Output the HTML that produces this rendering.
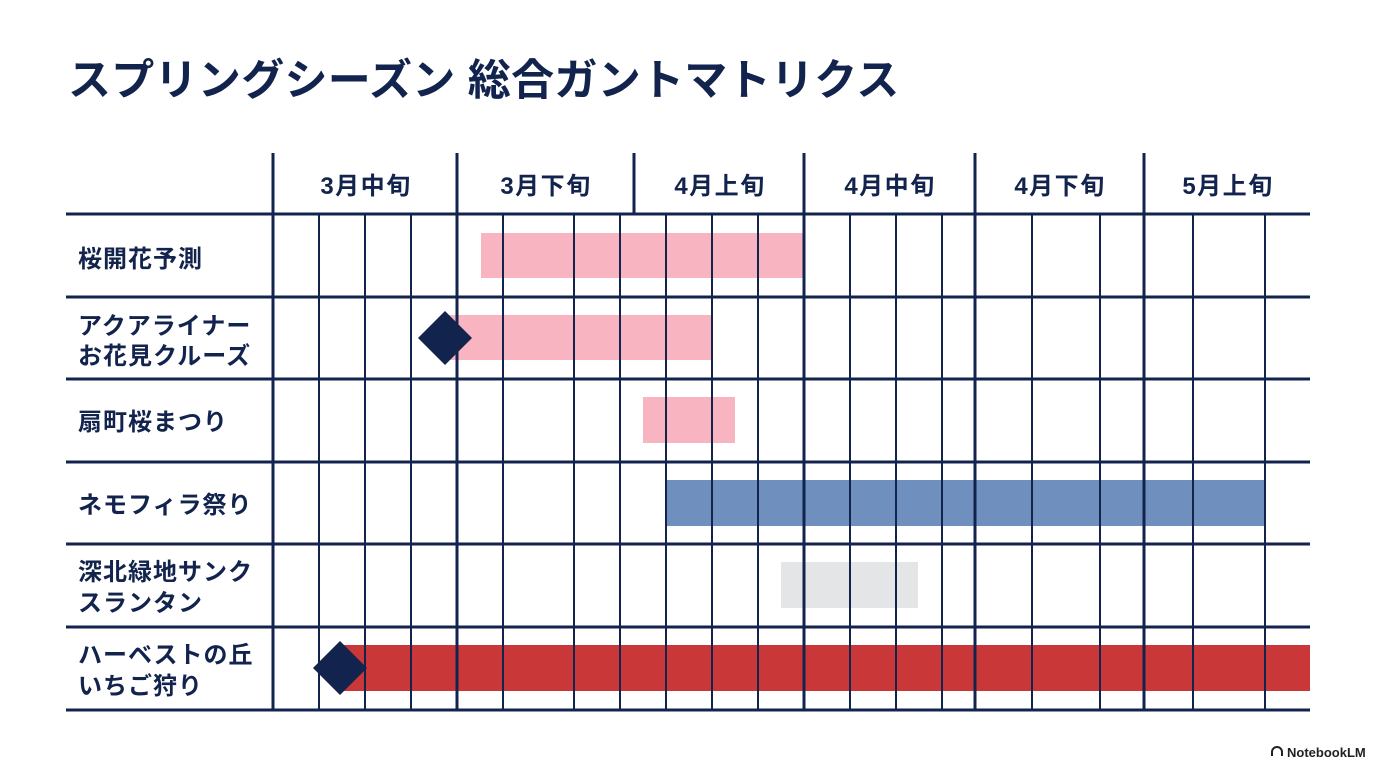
<!DOCTYPE html><html><head><meta charset="utf-8"><style>
body{margin:0;width:1376px;height:768px;background:#fff;overflow:hidden;font-family:"Liberation Sans","Noto Sans CJK JP",sans-serif;color:#12234d}
</style></head><body>
<svg width="1376" height="768" xmlns="http://www.w3.org/2000/svg" style="position:absolute;left:0;top:0">
<text x="68" y="95" font-size="43" font-weight="bold" fill="#12234d" letter-spacing="0.3" font-family="Liberation Sans,Noto Sans CJK JP,sans-serif">スプリングシーズン 総合ガントマトリクス</text>
<g fill="#f8b4c0"><rect x="481" y="233" width="322" height="45"/><rect x="445" y="315" width="267" height="45"/><rect x="643" y="397" width="92" height="46"/></g>
<rect x="666" y="480" width="599" height="46" fill="#6f8fbf"/>
<rect x="781" y="562" width="137" height="46" fill="#e3e5e6"/>
<rect x="340" y="645" width="970" height="46" fill="#c93738"/>
<g stroke="#12234d" stroke-width="2">
<line x1="319" y1="213" x2="319" y2="710"/><line x1="365" y1="213" x2="365" y2="710"/><line x1="411" y1="213" x2="411" y2="710"/>
<line x1="503" y1="213" x2="503" y2="710"/><line x1="574" y1="213" x2="574" y2="710"/><line x1="620" y1="213" x2="620" y2="710"/><line x1="666" y1="213" x2="666" y2="710"/><line x1="712" y1="213" x2="712" y2="710"/><line x1="758" y1="213" x2="758" y2="710"/>
<line x1="850" y1="213" x2="850" y2="710"/><line x1="896" y1="213" x2="896" y2="710"/><line x1="942" y1="213" x2="942" y2="710"/>
<line x1="1032" y1="213" x2="1032" y2="710"/><line x1="1100" y1="213" x2="1100" y2="710"/><line x1="1193" y1="213" x2="1193" y2="710"/><line x1="1265" y1="213" x2="1265" y2="710"/>
</g>
<g stroke="#12234d" stroke-width="3">
<line x1="273" y1="153" x2="273" y2="710"/><line x1="457" y1="153" x2="457" y2="710"/><line x1="634" y1="153" x2="634" y2="213"/><line x1="804" y1="153" x2="804" y2="710"/><line x1="975" y1="153" x2="975" y2="710"/><line x1="1144" y1="153" x2="1144" y2="710"/>
<line x1="66" y1="214" x2="1310" y2="214"/><line x1="66" y1="297" x2="1310" y2="297"/><line x1="66" y1="379" x2="1310" y2="379"/><line x1="66" y1="462" x2="1310" y2="462"/><line x1="66" y1="544" x2="1310" y2="544"/><line x1="66" y1="627" x2="1310" y2="627"/><line x1="66" y1="710" x2="1310" y2="710"/>
</g>
<g fill="#12234d"><polygon points="445,311 472,338 445,365 418,338"/><polygon points="340,641 367,668 340,695 313,668"/></g>
<g font-size="24" font-weight="bold" fill="#12234d" text-anchor="middle" letter-spacing="1.5" font-family="Liberation Sans,Noto Sans CJK JP,sans-serif">
<text x="366" y="194">3月中旬</text><text x="546" y="194">3月下旬</text><text x="720" y="194">4月上旬</text><text x="890" y="194">4月中旬</text><text x="1060" y="194">4月下旬</text><text x="1228" y="194">5月上旬</text>
</g>
<g font-size="24" font-weight="bold" fill="#12234d" letter-spacing="1" font-family="Liberation Sans,Noto Sans CJK JP,sans-serif">
<text x="78" y="267">桜開花予測</text>
<text x="78" y="334">アクアライナー</text><text x="78" y="364">お花見クルーズ</text>
<text x="78" y="430">扇町桜まつり</text>
<text x="78" y="513">ネモフィラ祭り</text>
<text x="78" y="580">深北緑地サンク</text><text x="78" y="611">スランタン</text>
<text x="78" y="663">ハーベストの丘</text><text x="78" y="694">いちご狩り</text>
</g>
<text x="1287" y="757" font-size="13" font-weight="bold" fill="#222" font-family="Liberation Sans,sans-serif">NotebookLM</text>
<path d="M1272 756 v-4 a5 5 0 0 1 10 0 v4" fill="none" stroke="#222" stroke-width="2"/>
</svg>
</body></html>
